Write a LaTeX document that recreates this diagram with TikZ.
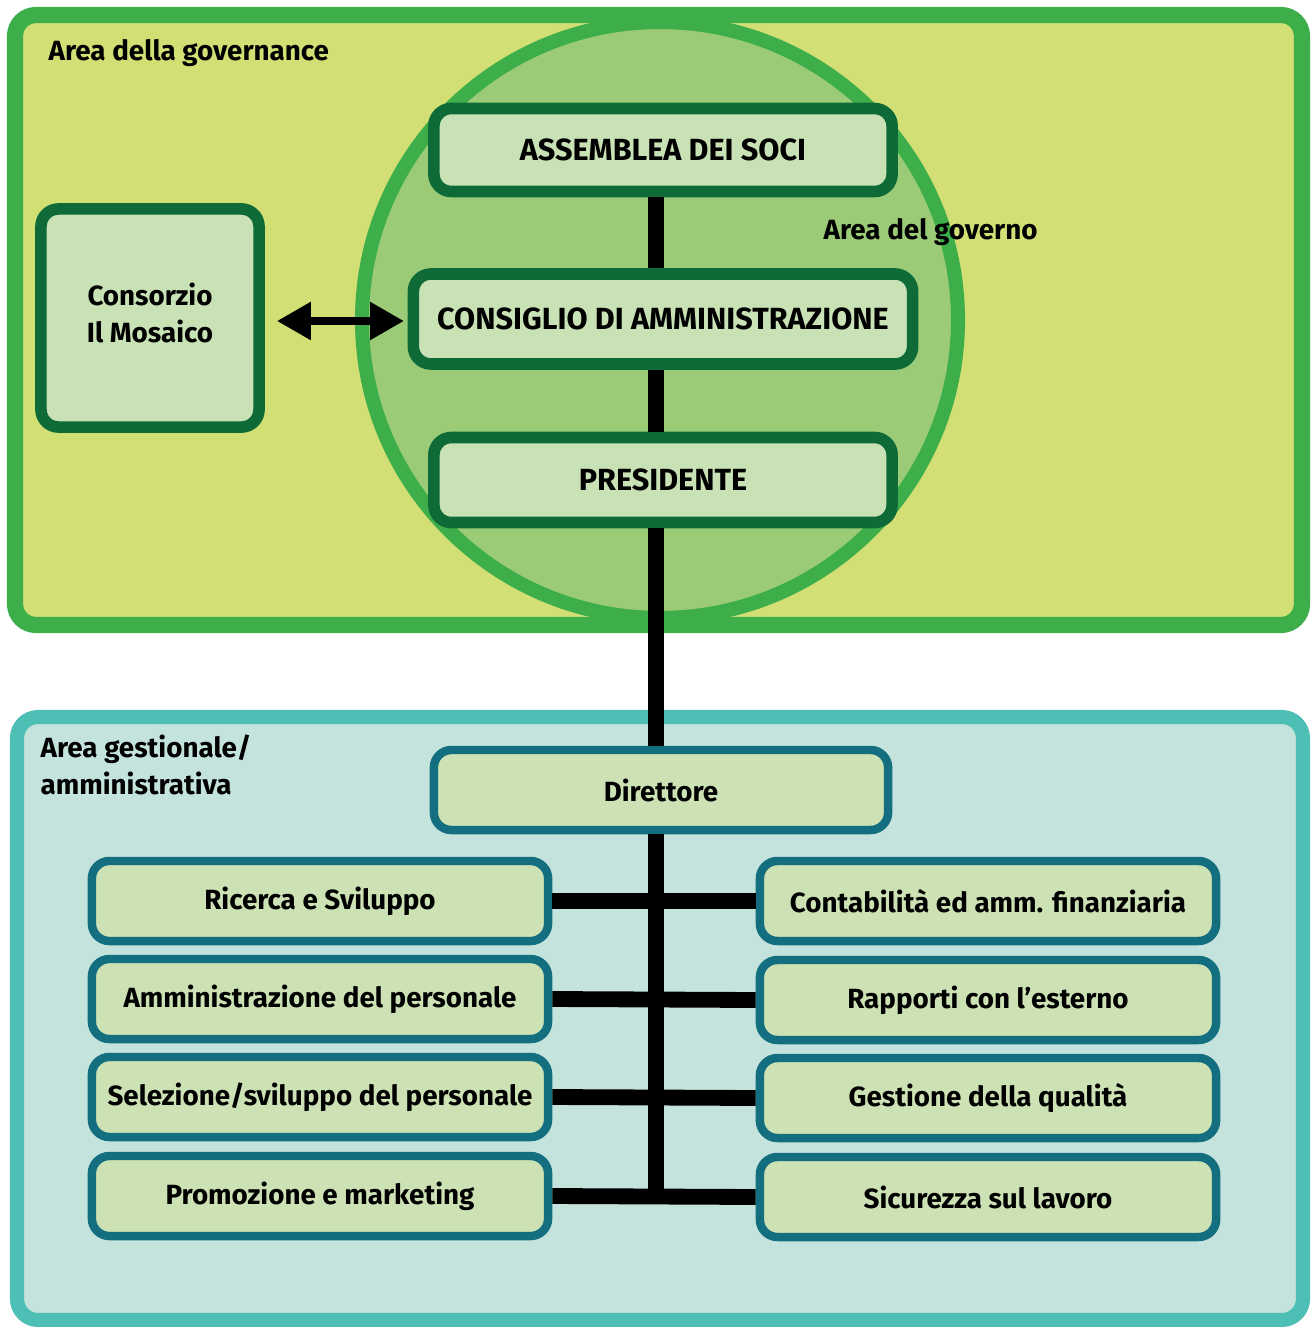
\documentclass[tikz,border=0pt]{standalone}
\usepackage{fontspec}
\setmainfont{Fira Sans}
\usetikzlibrary{arrows.meta}

\definecolor{govfill}{HTML}{D2DF74}
\definecolor{govline}{HTML}{3DAE49}
\definecolor{circfill}{HTML}{9BCB77}
\definecolor{boxline}{HTML}{0E6B38}
\definecolor{boxfill}{HTML}{C9E2B5}
\definecolor{gestfill}{HTML}{C4E3DD}
\definecolor{gestline}{HTML}{4DBFB5}
\definecolor{officeline}{HTML}{136E80}
\definecolor{officefill}{HTML}{CCE2B4}

\begin{document}
\begin{tikzpicture}[x=0.01cm,y=-0.01cm,line join=round,
    txt/.style={font=\bfseries\fontsize{7.9}{10.3}\selectfont,inner sep=0pt},
    govbox/.style={txt,draw=boxline,fill=boxfill,line width=3.3pt,rounded corners=5pt,
      minimum width=4.58cm,minimum height=0.83cm,font=\bfseries\fontsize{8.7}{10.3}\selectfont},
    office/.style={txt,draw=officeline,fill=officefill,line width=2.4pt,rounded corners=5pt,
      minimum width=4.56cm,minimum height=0.80cm},
    link/.style={line width=4.5pt},
    area/.style={txt,anchor=west}]
  \useasboundingbox (0,0) rectangle (1313,1327);

  % the two areas and the circle
  \draw[govline,fill=govfill,line width=4.6pt,rounded corners=6pt] (15,15) rectangle (1302,625);
  \draw[govline,fill=circfill,line width=4pt] (660,320) circle (298);
  \draw[gestline,fill=gestfill,line width=4pt,rounded corners=6pt] (17,717) rectangle (1303,1320);

  \node[area] (lgov) at (48,53) {Area della governance};
  \node[area] (lgovern) at (823,232) {Area del governo};
  \node[txt,anchor=north west,align=left,font=\bfseries\fontsize{7.9}{10.5}\selectfont] (lgest) at (40,734)
    {Area gestionale/\\amministrativa};

  \coordinate (spine) at (656,0);

  % governance
  \node[govbox] (assemblea) at (663,150) {ASSEMBLEA DEI SOCI};
  \node[govbox,minimum width=4.99cm,minimum height=0.90cm] (consiglio) at (663,319) {CONSIGLIO DI AMMINISTRAZIONE};
  \node[govbox,minimum width=2.18cm,minimum height=2.18cm,align=center,
    font=\bfseries\fontsize{7.9}{10.5}\selectfont] (consorzio) at (150,318)
    {Consorzio\\Il Mosaico\rule[-0.1cm]{0pt}{0pt}};
  \node[govbox,minimum height=0.85cm] (presidente) at (663,480) {PRESIDENTE};

  % gestione
  \node[office,minimum width=4.54cm] (direttore) at (661,790) {Direttore};
  \node[office] (l1) at (320,901) {Ricerca e Sviluppo};
  \node[office] (l2) at (320,999) {Amministrazione del personale};
  \node[office] (l3) at (320,1097) {Selezione/sviluppo del personale};
  \node[office] (l4) at (320,1196) {Promozione e marketing};
  \node[office] (r1) at (988,901) {Contabilità ed amm. finanziaria};
  \node[office] (r2) at (988,1000) {Rapporti con l’esterno};
  \node[office] (r3) at (988,1098) {Gestione della qualità};
  \node[office] (r4) at (988,1197) {Sicurezza sul lavoro};

  \draw[link] (assemblea.south -| spine) -- (consiglio.north -| spine);
  \draw[link] (consiglio.south -| spine) -- (presidente.north -| spine);
  \draw[link] (presidente.south -| spine) -- (direttore.north -| spine);
  \draw[link] (direttore.south -| spine) -- (l4.east -| spine);
  \foreach \i in {1,...,4}
    \draw[link] (l\i.east) -- (r\i.west);

  \draw[line width=2.4pt,{Triangle[length=0.34cm,width=0.36cm]}-{Triangle[length=0.34cm,width=0.36cm]},
    shorten <=0.12cm,shorten >=1pt] (consorzio.east |- 0,321) -- (consiglio.west |- 0,321);
\end{tikzpicture}
\end{document}
